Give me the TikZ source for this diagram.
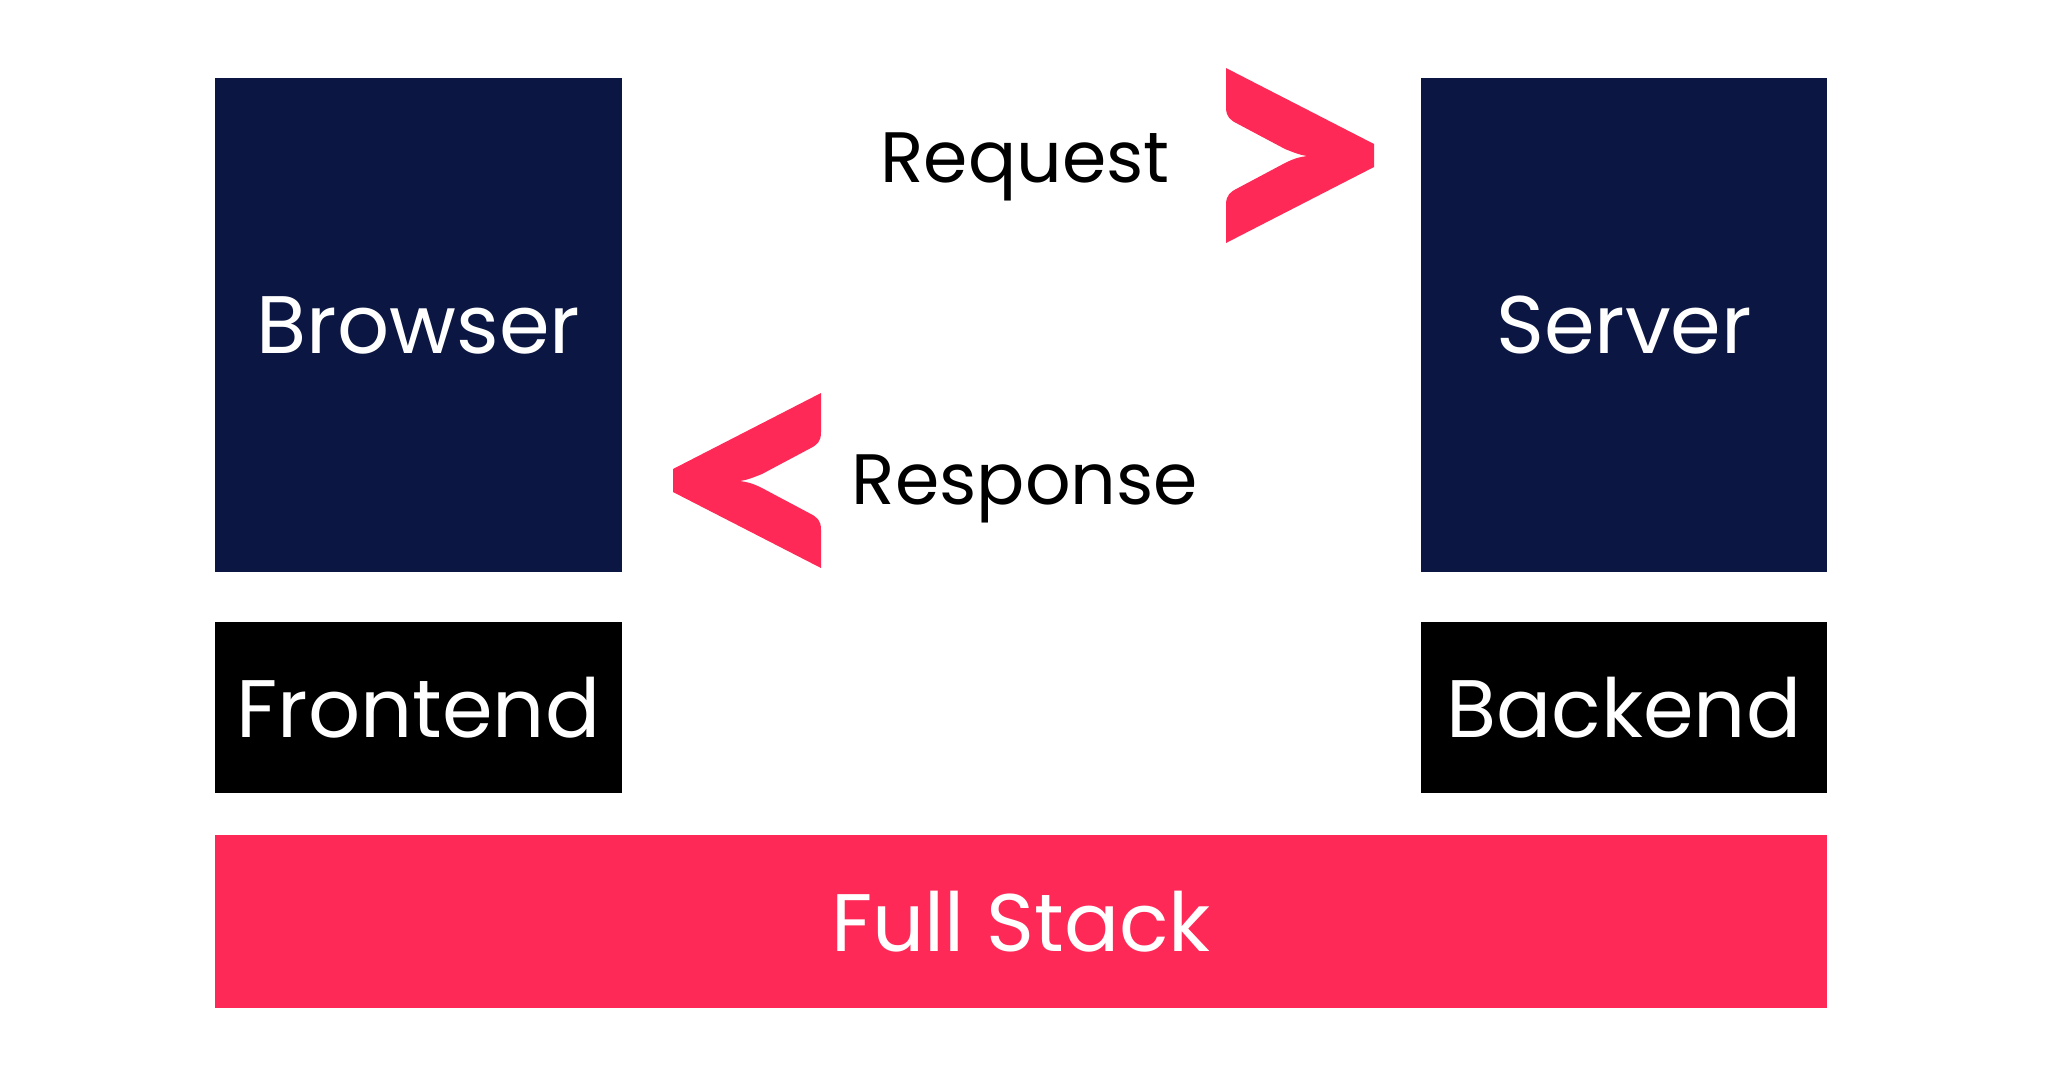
\documentclass[tikz,border=0pt]{standalone}
\usepackage{fontspec}
\setmainfont{Poppins}
\usetikzlibrary{positioning}
\definecolor{navy}{RGB}{11,22,66}
\definecolor{pinkred}{RGB}{255,41,88}

\begin{document}
\begin{tikzpicture}[x=0.01cm, y=-0.01cm,
 box/.style={inner sep=0pt, text=white, font=\fontsize{23.2}{28}\selectfont},
 tall/.style={box, minimum width=4.06cm, minimum height=4.94cm},
 short/.style={box, minimum width=4.06cm, minimum height=1.71cm},
 msg/.style={inner sep=0pt, text=black, font=\fontsize{20.3}{24}\selectfont},
 pics/chev/.style={code={
  \fill[pinkred] (0,0) -- (148,76) -- (148,99) -- (0,175) -- (0,137)
   .. controls (0,127) and (4,124) .. (12,120) -- (59,95)
   .. controls (69,90) and (74,89) .. (81,88)
   .. controls (74,87) and (69,85) .. (59,81) -- (12,56)
   .. controls (4,52) and (0,49) .. (0,39) -- cycle;
 }}]
\useasboundingbox (0,0) rectangle (2048,1078);
\node[tall, fill=navy] (browser) at (418.5, 325) {Browser};
\node[tall, fill=navy] (server) at (1624, 325) {Server};
\node[short, fill=black] (frontend) at (418.5, 707.5) {Frontend};
\node[short, fill=black] (backend) at (1624, 707.5) {Backend};
\node[box, fill=pinkred, minimum width=16.12cm, minimum height=1.72cm] (fullstack) at (1021, 921.5) {Full Stack};
\node[msg, anchor=base] (request) at (1025, 182) {Request};
\node[msg, anchor=base] (response) at (1025, 504) {Response};
\pic at (1226, 68) {chev};
\pic[xscale=-1] at (821, 393) {chev};
\end{tikzpicture}
\end{document}
